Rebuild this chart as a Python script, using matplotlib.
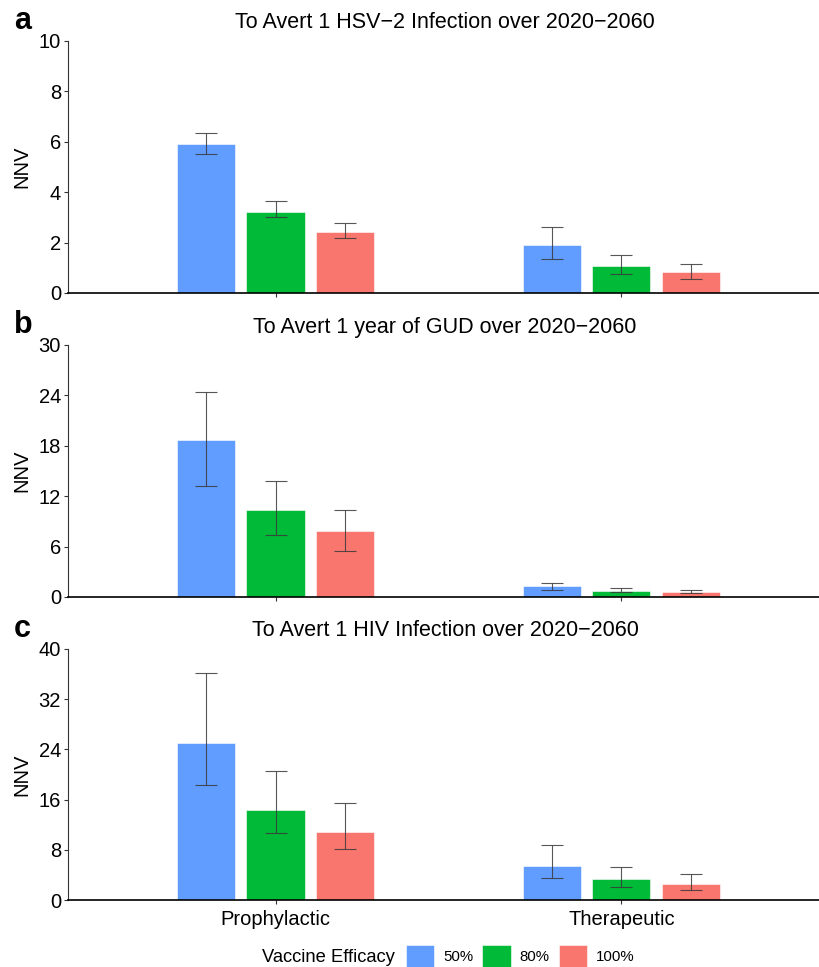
import numpy as np
import matplotlib.pyplot as plt

plt.rcParams['font.family'] = ['Liberation Sans', 'DejaVu Sans']

# vaccine type (x categories) and efficacy levels (dodged bars)
vaccine_types = ["Prophylactic", "Therapeutic"]
efficacies = ["50%", "80%", "100%"]
colors = ["#619CFF", "#00BA38", "#F8766D"]

titles = [
    "To Avert 1 HSV\u22122 Infection over 2020\u22122060",
    "To Avert 1 year of GUD over 2020\u22122060",
    "To Avert 1 HIV Infection over 2020\u22122060",
]
panel_letters = ["a", "b", "c"]
y_max = [10, 30, 40]
y_ticks = [[0, 2, 4, 6, 8, 10], [0, 6, 12, 18, 24, 30], [0, 8, 16, 24, 32, 40]]

# rows = efficacy (50, 80, 100), columns = prophylactic, therapeutic
hsv_mean = [[5.9, 1.9], [3.23, 1.08], [2.41, 0.83]]
hsv_low = [[5.53, 1.35], [3.0, 0.77], [2.18, 0.57]]
hsv_high = [[6.36, 2.62], [3.64, 1.52], [2.79, 1.15]]

gud_mean = [[18.7, 1.27], [10.4, 0.75], [7.8, 0.6]]
gud_low = [[13.2, 0.87], [7.4, 0.56], [5.5, 0.44]]
gud_high = [[24.4, 1.63], [13.8, 1.03], [10.4, 0.87]]

hiv_mean = [[25.0, 5.47], [14.3, 3.3], [10.8, 2.55]]
hiv_low = [[18.3, 3.5], [10.6, 2.1], [8.1, 1.6]]
hiv_high = [[36.1, 8.76], [20.6, 5.3], [15.5, 4.2]]

panels = [
    (hsv_mean, hsv_low, hsv_high),
    (gud_mean, gud_low, gud_high),
    (hiv_mean, hiv_low, hiv_high),
]

W, H = 819, 967
fig = plt.figure(figsize=(W / 100, H / 100), dpi=100)

# pixel boxes (top, bottom) of each panel
boxes = [(41, 293), (345, 597), (649, 900)]
left_px, right_px = 68, 822

x = np.arange(1, len(vaccine_types) + 1)
step = 0.2
width = 0.168

for i, (mean, low, high) in enumerate(panels):
    top, bot = boxes[i]
    ax = fig.add_axes([left_px / W, 1 - bot / H, (right_px - left_px) / W, (bot - top) / H])
    for j, eff in enumerate(efficacies):
        m = np.array(mean[j])
        lo = np.array(low[j])
        hi = np.array(high[j])
        pos = x + (j - 1) * step
        ax.bar(pos, m, width=width, color=colors[j], edgecolor="white", linewidth=0.4,
               label=eff, zorder=2)
        ax.errorbar(pos, m, yerr=[m - lo, hi - m], fmt="none", ecolor="#3a3a3a",
                    elinewidth=0.8, capsize=8, capthick=0.8, zorder=3, alpha=0.85)
    ax.set_xlim(0.40, 2.58)
    ax.set_ylim(0, y_max[i])
    ax.set_yticks(y_ticks[i])
    ax.set_xticks(x)
    if i == 2:
        ax.set_xticklabels(vaccine_types, fontsize=14.5)
    else:
        ax.set_xticklabels([])
    ax.tick_params(axis="y", labelsize=14.5, length=3, width=0.8, color="#333333", pad=2)
    ax.tick_params(axis="x", length=3, width=0.8, color="#333333", pad=4)
    for s in ["top", "right"]:
        ax.spines[s].set_visible(False)
    ax.spines["left"].set_color("#333333")
    ax.spines["left"].set_linewidth(0.8)
    ax.spines["bottom"].set_color("black")
    ax.spines["bottom"].set_linewidth(1.2)
    ax.set_ylabel("NNV", fontsize=14.5, labelpad=5)
    ax.set_title(titles[i], fontsize=15.5, pad=9)
    fig.text(14 / W, 1 - (top - 20) / H, panel_letters[i], fontsize=22,
             fontweight="bold", va="center", ha="left")

handles, labels = ax.get_legend_handles_labels()
fig.text(262 / W, 1 - 957 / H, "Vaccine Efficacy", fontsize=13.2, va="center")
fig.legend(handles, labels, ncol=3, frameon=False, fontsize=10.8,
           loc="center left", bbox_to_anchor=(398 / W, 1 - 956 / H),
           handlelength=1.9, handleheight=1.8, columnspacing=0.6, handletextpad=0.6,
           borderpad=0)

fig.savefig("out.png", dpi=100)
